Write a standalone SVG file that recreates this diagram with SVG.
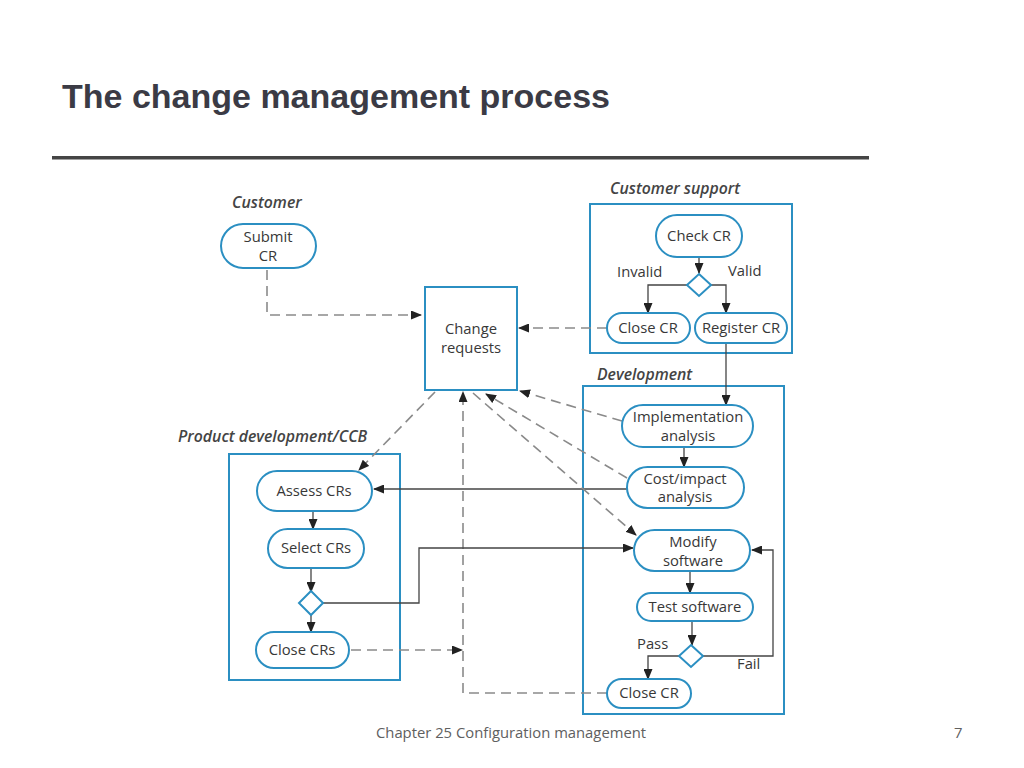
<svg xmlns="http://www.w3.org/2000/svg" width="1024" height="768" viewBox="0 0 1024 768">
<style>
.bg{fill:#ffffff}
.title{font-family:"Liberation Sans",Arial,sans-serif;font-weight:bold;font-size:33px;fill:#3b3b45}
.foot{font-family:"Open Sans","Noto Sans",sans-serif;font-size:14.8px;fill:#606060}
.lane{fill:none;stroke:#2b8fc2;stroke-width:2}
.lbl{font-family:"Open Sans","Noto Sans",sans-serif;font-style:italic;font-weight:600;font-size:15.8px;fill:#444}
.node{fill:#ffffff;stroke:#2b8fc2;stroke-width:2}
.t{font-family:"Open Sans","Noto Sans",sans-serif;font-size:14.8px;fill:#383838;text-anchor:middle}
.g{font-family:"Open Sans","Noto Sans",sans-serif;font-size:14.8px;fill:#383838}
.s{fill:none;stroke:#444;stroke-width:1.3}
.d{fill:none;stroke:#8a8a8a;stroke-width:1.6;stroke-dasharray:10 6}
</style>
<defs>
<marker id="ah" markerUnits="userSpaceOnUse" markerWidth="11" markerHeight="9" refX="10" refY="4.5" orient="auto">
<path d="M0,0 L11,4.5 L0,9 Z" fill="#222"/>
</marker>
</defs>
<rect class="bg" x="0" y="0" width="1024" height="768"/>
<text class="title" x="62" y="108" textLength="548" lengthAdjust="spacingAndGlyphs">The change management process</text>
<rect x="52" y="156" width="817" height="3.5" fill="#454545"/>

<g id="lanes">
<text class="lbl" x="232" y="208">Customer</text>
<text class="lbl" x="610" y="194">Customer support</text>
<rect class="lane" x="590" y="204" width="202" height="149"/>
<text class="lbl" x="597" y="380">Development</text>
<rect class="lane" x="583" y="386" width="201" height="328"/>
<text class="lbl" x="178" y="442">Product development/CCB</text>
<rect class="lane" x="229" y="454" width="171" height="226"/>
</g>

<g id="connectors">
<path class="d" d="M267,270 V315 H421" marker-end="url(#ah)"/>
<path class="d" d="M607,328 H519" marker-end="url(#ah)"/>
<path class="s" d="M699,257 V273" marker-end="url(#ah)"/>
<path class="s" d="M688,285 H648 V313" marker-end="url(#ah)"/>
<path class="s" d="M711,285 H726 V313" marker-end="url(#ah)"/>
<path class="s" d="M726,343 V405" marker-end="url(#ah)"/>
<path class="s" d="M684,447 V467" marker-end="url(#ah)"/>
<path class="s" d="M690,571 V593" marker-end="url(#ah)"/>
<path class="s" d="M692,621 V645" marker-end="url(#ah)"/>
<path class="s" d="M680,656 H648 V679" marker-end="url(#ah)"/>
<path class="s" d="M703,656 H773 V550 H752" marker-end="url(#ah)"/>
<path class="d" d="M607,693 H463 V392" marker-end="url(#ah)"/>
<path class="s" d="M313,511 V529" marker-end="url(#ah)"/>
<path class="s" d="M311,568 V592" marker-end="url(#ah)"/>
<path class="s" d="M311,615 V632" marker-end="url(#ah)"/>
<path class="d" d="M351,650 H462" marker-end="url(#ah)"/>
<path class="s" d="M323,603 H419 V548 H633" marker-end="url(#ah)"/>
<path class="s" d="M627,489 H374" marker-end="url(#ah)"/>
<path class="d" d="M435,392 L359,470" marker-end="url(#ah)"/>
<path class="d" d="M622,421 L520,391" marker-end="url(#ah)"/>
<path class="d" d="M627,478 L486,394" marker-end="url(#ah)"/>
<path class="d" d="M473,393 L636,535" marker-end="url(#ah)"/>
</g>

<g id="submit-cr">
<rect class="node" x="221" y="224" width="95" height="44" rx="22"/>
<text class="t" x="268" y="242">Submit</text>
<text class="t" x="268" y="261">CR</text>
</g>
<g id="change-requests">
<rect class="node" x="425" y="287" width="92" height="103"/>
<text class="t" x="471" y="334">Change</text>
<text class="t" x="471" y="353">requests</text>
</g>
<g id="check-cr">
<rect class="node" x="656" y="215" width="86" height="42" rx="21"/>
<text class="t" x="699" y="241">Check CR</text>
</g>
<g id="support-decision">
<path class="node" d="M699,274 L711,285 L699,296 L687,285 Z"/>
<text class="g" x="617" y="277">Invalid</text>
<text class="g" x="728" y="276">Valid</text>
</g>
<g id="close-cr-support">
<rect class="node" x="607" y="313" width="83" height="30" rx="15"/>
<text class="t" x="648" y="333">Close CR</text>
</g>
<g id="register-cr">
<rect class="node" x="695" y="313" width="92" height="30" rx="15"/>
<text class="t" x="741" y="333">Register CR</text>
</g>
<g id="implementation-analysis">
<rect class="node" x="622" y="405" width="131" height="42" rx="21"/>
<text class="t" x="688" y="422">Implementation</text>
<text class="t" x="688" y="441">analysis</text>
</g>
<g id="cost-impact-analysis">
<rect class="node" x="627" y="467" width="117" height="41" rx="20.5"/>
<text class="t" x="685" y="484">Cost/impact</text>
<text class="t" x="685" y="502">analysis</text>
</g>
<g id="modify-software">
<rect class="node" x="634" y="530" width="116" height="41" rx="20.5"/>
<text class="t" x="693" y="547">Modify</text>
<text class="t" x="693" y="566">software</text>
</g>
<g id="test-software">
<rect class="node" x="637" y="593" width="116" height="28" rx="14"/>
<text class="t" x="695" y="612">Test software</text>
</g>
<g id="test-decision">
<path class="node" d="M691,645 L703,656 L691,667 L679,656 Z"/>
<text class="g" x="637" y="649">Pass</text>
<text class="g" x="737" y="669">Fail</text>
</g>
<g id="close-cr-dev">
<rect class="node" x="607" y="679" width="84" height="29" rx="14.5"/>
<text class="t" x="649" y="698">Close CR</text>
</g>
<g id="assess-crs">
<rect class="node" x="257" y="471" width="115" height="40" rx="20"/>
<text class="t" x="314" y="496">Assess CRs</text>
</g>
<g id="select-crs">
<rect class="node" x="268" y="529" width="96" height="39" rx="19.5"/>
<text class="t" x="316" y="553">Select CRs</text>
</g>
<g id="ccb-decision">
<path class="node" d="M311,591 L323,603 L311,615 L299,603 Z"/>
</g>
<g id="close-crs">
<rect class="node" x="256" y="632" width="93" height="36" rx="18"/>
<text class="t" x="302" y="655">Close CRs</text>
</g>

<text class="foot" x="376" y="738">Chapter 25 Configuration management</text>
<text class="foot" x="954" y="738">7</text>
</svg>
